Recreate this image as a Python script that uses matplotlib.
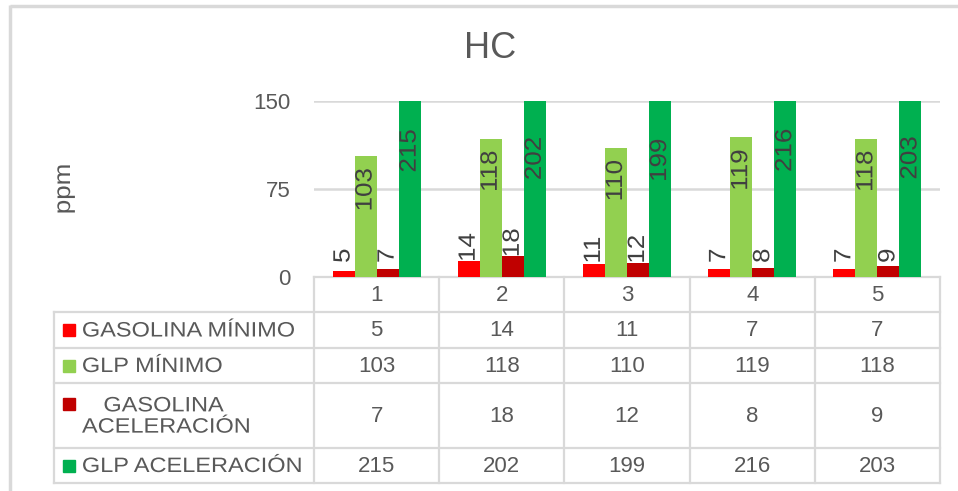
import matplotlib
matplotlib.use("Agg")
import matplotlib.pyplot as plt
import numpy as np
from matplotlib.transforms import blended_transform_factory, Affine2D
from matplotlib.patches import Rectangle
from matplotlib.patheffects import AbstractPathEffect

plt.rcParams['font.family'] = ['Liberation Sans', 'DejaVu Sans']

categories = ["1", "2", "3", "4", "5"]
series_names = ["GASOLINA MÍNIMO", "GLP MÍNIMO", "GASOLINA\nACELERACIÓN", "GLP ACELERACIÓN"]
gasolina_minimo = [5, 14, 11, 7, 7]
glp_minimo = [103, 118, 110, 119, 118]
gasolina_aceleracion = [7, 18, 12, 8, 9]
glp_aceleracion = [215, 202, 199, 216, 203]
series_values = [gasolina_minimo, glp_minimo, gasolina_aceleracion, glp_aceleracion]
colors = ["#FF0000", "#92D050", "#C00000", "#00B050"]
yticks = [0, 75, 150]
title = "HC"
ylabel = "ppm"


class Stretch(AbstractPathEffect):
    """Stretch text along its reading direction (mimics wider rendering)."""
    def __init__(self, sx, angle=0, anchor="left"):
        super().__init__()
        self.sx = sx
        self.angle = angle
        self.anchor = anchor

    def draw_path(self, renderer, gc, tpath, affine, rgbFace=None):
        ext = tpath.get_extents(affine)
        if self.anchor == "left":
            cx, cy = ext.x0, (ext.y0 + ext.y1) / 2
        else:
            cx, cy = (ext.x0 + ext.x1) / 2, (ext.y0 + ext.y1) / 2
        st = (Affine2D().translate(-cx, -cy).rotate_deg(-self.angle)
              .scale(self.sx, 1).rotate_deg(self.angle).translate(cx, cy))
        renderer.draw_path(gc, tpath, affine + st, rgbFace)


W, H = 958, 491
fig = plt.figure(figsize=(W / 100, H / 100), dpi=100)

def fx(px):
    return px / W

def fy(py):
    return 1 - py / H

lay = fig.add_axes([0, 0, 1, 1], zorder=0)
lay.set_xlim(0, W)
lay.set_ylim(H, 0)
lay.axis("off")

left, right, top, bottom = 314, 940, 101, 277
ax = fig.add_axes([fx(left), fy(bottom), fx(right) - fx(left), fy(top) - fy(bottom)], zorder=1)
ax.patch.set_alpha(0)

n = len(categories)
x = np.arange(1, n + 1)
bw = 0.176
offsets = (np.arange(4) - 1.5) * bw
txtc = "#595959"
lblc = "#404040"

for k, (vals, col) in enumerate(zip(series_values, colors)):
    ax.bar(x + offsets[k], vals, width=bw, color=col, zorder=2)

ax.set_xlim(0.5, n + 0.5)
ax.set_ylim(0, 150)
ax.set_yticks(yticks)
ax.set_yticklabels([str(t) for t in yticks], fontsize=16, color=txtc)
ax.tick_params(axis="y", length=0, pad=17)
ax.set_xticks([])
for s in ax.spines.values():
    s.set_visible(False)
ax.grid(axis="y", color="#D9D9D9", linewidth=1.8, zorder=0)
ax.set_axisbelow(True)

rot_fx = [Stretch(1.1, angle=90, anchor="center")]
for k, vals in enumerate(series_values):
    for i, v in enumerate(vals):
        xpos = x[i] + offsets[k]
        if k in (0, 2):
            t = ax.text(xpos, max(v, 12.5), str(v), rotation=90, ha="center", va="bottom",
                        fontsize=17, color=lblc, clip_on=False)
        elif k == 1:
            t = ax.annotate(str(v), (xpos, v), xytext=(0, -10), textcoords="offset points",
                            rotation=90, ha="center", va="top", fontsize=17, color=lblc)
        else:
            t = ax.text(xpos, v / 2, str(v), rotation=90, ha="center", va="center",
                        fontsize=17, color=lblc)
        t.set_path_effects(rot_fx)

fig.text(fx(490), fy(48), title, fontsize=26, color=txtc, ha="center", va="center")
yl_t = fig.text(fx(64), fy(189), ylabel, fontsize=17, color=txtc, rotation=90,
                ha="center", va="center")
yl_t.set_path_effects([Stretch(1.1, angle=90, anchor="center")])

gc = "#D9D9D9"
lay.plot([10, W + 5], [6, 6], color=gc, lw=2.5, solid_capstyle="butt")
lay.plot([10, 10], [5, H + 5], color=gc, lw=2.5, solid_capstyle="butt")

row_lines = [277, 312, 348, 383, 448, 483]
tleft = 54
lw = 1.6
lay.plot([left, right], [row_lines[0], row_lines[0]], color=gc, lw=lw)
for yl in row_lines[1:]:
    lay.plot([tleft, right], [yl, yl], color=gc, lw=lw)
lay.plot([tleft, tleft], [row_lines[1], row_lines[-1]], color=gc, lw=lw)
col_edges = ax.get_xlim()[0] + np.arange(n + 1)
bt = blended_transform_factory(ax.transData, lay.transData)
for ce in col_edges:
    lay.plot([ce, ce], [row_lines[0], row_lines[-1]], color=gc, lw=lw, transform=bt)

hy = (row_lines[0] + row_lines[1]) / 2 + 1
for i, c in enumerate(categories):
    lay.text(x[i], hy, c, transform=bt, ha="center", va="center", fontsize=16, color=txtc)

lbl_fx = [Stretch(1.13, angle=0, anchor="left")]
for r, (name, vals, col) in enumerate(zip(series_names, series_values, colors)):
    y0, y1 = row_lines[r + 1], row_lines[r + 2]
    yc = (y0 + y1) / 2 + 1
    for i, v in enumerate(vals):
        lay.text(x[i], yc, str(v), transform=bt, ha="center", va="center", fontsize=16, color=txtc)
    sq_y = yc - 13 if "\n" in name else yc - 1
    lay.add_patch(Rectangle((63, sq_y - 6), 12, 12, color=col, zorder=3))
    t = lay.text(82, yc, name, ha="left", va="center", multialignment="center",
                 fontsize=15, color=txtc, linespacing=1.15)
    t.set_path_effects(lbl_fx)

fig.savefig("out.png", dpi=100)
